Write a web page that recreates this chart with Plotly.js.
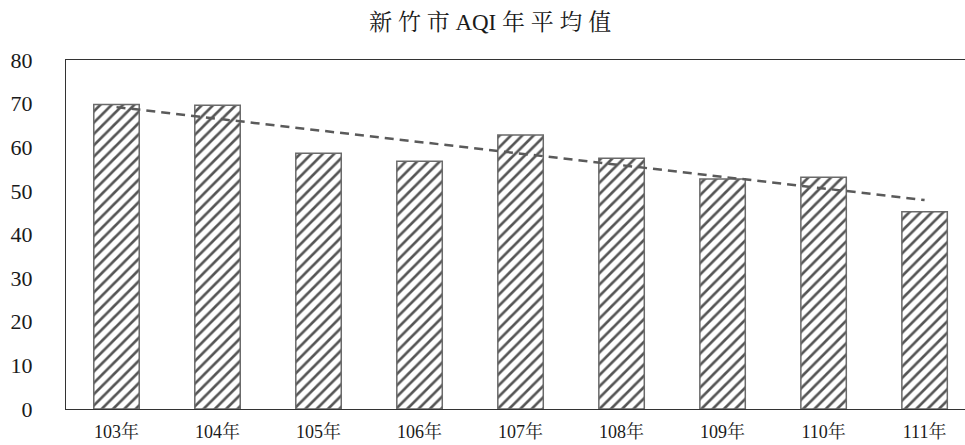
<!DOCTYPE html>
<html>
<head>
<meta charset="utf-8">
<script src="https://cdn.plot.ly/plotly-3.0.1.min.js"></script>
<style>html,body{margin:0;padding:0;background:#fff;}#chart{width:965px;height:445px;}</style>
</head>
<body>
<div id="chart"></div>
<script>
const categories = ["103年","104年","105年","106年","107年","108年","109年","110年","111年"];
const aqiValues = [69.8, 69.6, 58.6, 56.8, 62.8, 57.5, 52.7, 53.1, 45.2];
const trendCategories = ["103年","111年"];
const trendValues = [69.2, 47.9];
const yTicks = [0,10,20,30,40,50,60,70,80];

const serif = 'Liberation Serif, Noto Serif CJK TC, Noto Sans CJK TC, serif';

const data = [
  {
    type: 'bar',
    x: categories,
    y: aqiValues,
    marker: {
      color: '#ffffff',
      line: {color: '#6a6a6a', width: 1.5},
      pattern: {shape: '/', fgcolor: '#555555', bgcolor: '#ffffff', size: 8, solidity: 0.33}
    },
    hoverinfo: 'x+y',
    showlegend: false
  },
  {
    type: 'scatter',
    mode: 'lines',
    x: trendCategories,
    y: trendValues,
    line: {color: '#5a5a5a', width: 2.5, dash: '9px,6px'},
    showlegend: false
  }
];

const layout = {
  width: 965, height: 445,
  margin: {l: 66, r: 0, t: 60, b: 36},
  paper_bgcolor: '#ffffff', plot_bgcolor: '#ffffff',
  title: {
    text: '新 竹 市 AQI 年 平 均 值',
    x: 0.508, xanchor: 'center', y: 0.95, yanchor: 'middle', yref: 'container',
    font: {family: serif, size: 23, color: '#1a1a1a'}
  },
  bargap: 0.55,
  xaxis: {
    type: 'category',
    range: [-0.5, 8.4],
    showline: true, mirror: true, linecolor: '#333333', linewidth: 1.2,
    showgrid: false, zeroline: false, ticks: '',
    ticklabelstandoff: 6,
    tickfont: {family: serif, size: 18, color: '#1a1a1a'}
  },
  yaxis: {
    range: [0, 80],
    tickvals: yTicks,
    showline: true, linecolor: '#333333', linewidth: 1.2,
    showgrid: false, zeroline: false, ticks: '',
    ticklabelstandoff: 28,
    tickfont: {family: serif, size: 22, color: '#1a1a1a'}
  }
};

Plotly.newPlot('chart', data, layout, {displayModeBar: false, staticPlot: true});
</script>
</body>
</html>
